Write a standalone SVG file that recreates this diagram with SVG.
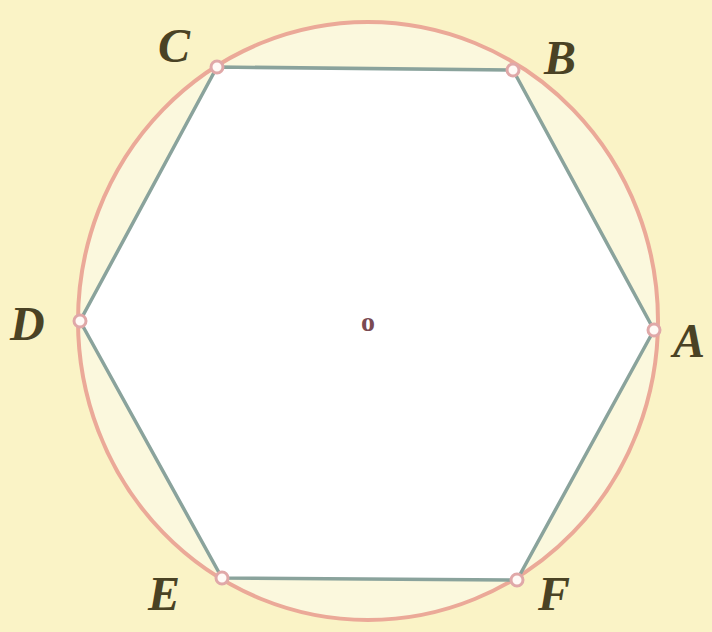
<svg xmlns="http://www.w3.org/2000/svg" width="712" height="632" viewBox="0 0 712 632">
<style>
.lbl{font-family:"Liberation Serif",serif;font-style:italic;font-weight:bold;font-size:48px;fill:#4a4224;}
.pt{fill:#fffaf6;stroke:#e0a8a8;stroke-width:3;}
</style>
<rect width="712" height="632" fill="#faf3c6"/>
<g id="circle">
<ellipse cx="368" cy="321" rx="290" ry="299" fill="#fbf8dd" stroke="#eba998" stroke-width="4"/>
</g>
<g id="hexagon">
<polygon points="217,67 513,70 654,330 517,580 222,578 80,321" fill="#ffffff" stroke="#8aa39c" stroke-width="3.5" stroke-linejoin="round"/>
</g>
<g id="points">
<circle class="pt" cx="217" cy="67" r="6"/>
<circle class="pt" cx="513" cy="70" r="6"/>
<circle class="pt" cx="654" cy="330" r="6"/>
<circle class="pt" cx="517" cy="580" r="6"/>
<circle class="pt" cx="222" cy="578" r="6"/>
<circle class="pt" cx="80" cy="321" r="6"/>
</g>
<g id="labels">
<text class="lbl" x="158" y="62">C</text>
<text class="lbl" x="544" y="74">B</text>
<text class="lbl" x="10" y="340">D</text>
<text class="lbl" x="673" y="357">A</text>
<text class="lbl" x="148" y="610">E</text>
<text class="lbl" x="538" y="610">F</text>
<text x="368" y="331" text-anchor="middle" font-family="Liberation Serif,serif" font-weight="bold" font-size="28" fill="#7a4a52">o</text>
</g>
</svg>
